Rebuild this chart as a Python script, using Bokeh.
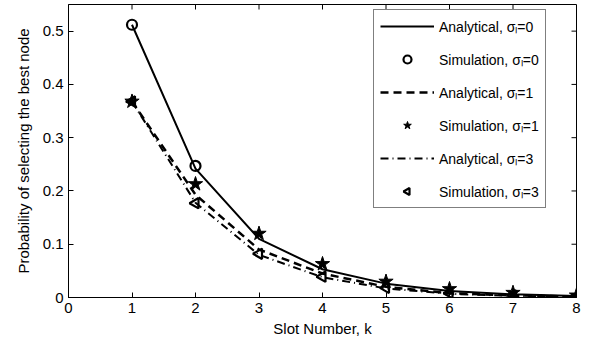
import math
from bokeh.plotting import figure
from bokeh.models import Range1d, Legend, LegendItem, FixedTicker
from bokeh.embed import file_html
from bokeh.resources import INLINE

k = [1, 2, 3, 4, 5, 6, 7, 8]
analytical_s0 = [0.512, 0.242, 0.110, 0.053, 0.026, 0.012, 0.006, 0.003]
simulation_s0 = [0.512, 0.247, 0.115, 0.055, 0.026, 0.012, 0.006, 0.003]
analytical_s1 = [0.368, 0.193, 0.090, 0.045, 0.020, 0.008, 0.004, 0.002]
simulation_s1 = [0.368, 0.213, 0.120, 0.063, 0.030, 0.016, 0.009, 0.004]
analytical_s3 = [0.368, 0.178, 0.080, 0.038, 0.017, 0.007, 0.003, 0.001]
simulation_s3 = [0.368, 0.177, 0.082, 0.039, 0.018, 0.008, 0.004, 0.002]

x_ticks = [0, 1, 2, 3, 4, 5, 6, 7, 8]
y_ticks = [0, 0.1, 0.2, 0.3, 0.4, 0.5]

FONT = "Liberation Sans"
X0, X1, Y0, Y1 = 0, 8, 0, 0.55
W, H = 586, 345
BL, BR, BT, BB = 68, 10, 4, 48

p = figure(width=W, height=H, output_backend="svg", toolbar_location=None,
           x_range=Range1d(X0, X1), y_range=Range1d(Y0, Y1),
           min_border_left=BL, min_border_right=BR, min_border_top=BT, min_border_bottom=BB)
p.grid.visible = False
p.outline_line_color = "black"
p.outline_line_width = 1
p.background_fill_color = "white"
p.border_fill_color = "white"

for ax in (p.xaxis[0], p.yaxis[0]):
    ax.major_tick_in = 5
    ax.major_tick_out = 0
    ax.minor_tick_in = 0
    ax.minor_tick_out = 0
    ax.axis_line_color = "black"
    ax.major_tick_line_color = "black"
    ax.major_label_text_font = FONT
    ax.major_label_text_font_size = "15px"
    ax.major_label_text_color = "black"
    ax.axis_label_text_font = FONT
    ax.axis_label_text_font_size = "15px"
    ax.axis_label_text_font_style = "normal"
    ax.axis_label_text_color = "black"

p.xaxis.ticker = FixedTicker(ticks=x_ticks)
p.yaxis.ticker = FixedTicker(ticks=y_ticks)
p.yaxis.major_label_overrides = {0: "0"}
p.xaxis.axis_label = "Slot Number, k"
p.yaxis.axis_label = "Probability of selecting the best node"
p.xaxis.major_label_standoff = 5
p.xaxis.axis_label_standoff = 4
p.yaxis.major_label_standoff = 5
p.yaxis.axis_label_standoff = 8

# mirrored inner ticks on top and right edges (5 px long)
fw = W - BL - BR
fh = H - BT - BB
tx = 5 * (X1 - X0) / fw
ty = 5 * (Y1 - Y0) / fh
top_t = [t for t in x_ticks if X0 < t < X1]
right_t = [t for t in y_ticks if Y0 < t < Y1]
p.segment(x0=top_t, y0=[Y1] * len(top_t), x1=top_t, y1=[Y1 - ty] * len(top_t),
          line_color="black", line_width=1)
p.segment(x0=[X1] * len(right_t), y0=right_t, x1=[X1 - tx] * len(right_t), y1=right_t,
          line_color="black", line_width=1)

r_a0 = p.line(k, analytical_s0, line_color="black", line_width=2)
r_s0 = p.scatter(k[:2], simulation_s0[:2], marker="circle", size=10, fill_color=None,
                 line_color="black", line_width=2.2)
r_a1 = p.line(k, analytical_s1, line_color="black", line_width=2.5, line_dash="8 5")
r_s1 = p.scatter(k, simulation_s1, marker="star", size=15, fill_color="black",
                 line_color="black", line_width=1)
r_a3 = p.line(k, analytical_s3, line_color="black", line_width=2, line_dash="8 4 1 4")
try:
    r_s3 = p.ngon(k, simulation_s3, radius=6, n=3, angle=math.pi / 2, radius_units="screen",
                  fill_color=None, line_color="black", line_width=2.2)
except Exception:
    r_s3 = p.scatter(k, simulation_s3, marker="triangle", angle=math.pi / 2, size=11,
                     fill_color=None, line_color="black", line_width=2.2)

items = [
    LegendItem(label="Analytical, σₗ=0", renderers=[r_a0]),
    LegendItem(label="Simulation, σₗ=0", renderers=[r_s0]),
    LegendItem(label="Analytical, σₗ=1", renderers=[r_a1]),
    LegendItem(label="Simulation, σₗ=1", renderers=[r_s1]),
    LegendItem(label="Analytical, σₗ=3", renderers=[r_a3]),
    LegendItem(label="Simulation, σₗ=3", renderers=[r_s3]),
]
legend = Legend(items=items, location=(305, 89))
legend.border_line_color = "black"
legend.border_line_width = 1
legend.background_fill_alpha = 1
legend.label_text_font = FONT
legend.label_text_font_size = "14px"
legend.label_text_color = "black"
legend.glyph_width = 54
legend.glyph_height = 20
legend.label_height = 20
legend.spacing = 13
legend.padding = 6
legend.margin = 0
legend.label_standoff = 5
p.add_layout(legend, "center")

open("out.html", "w").write(file_html(p, INLINE))
